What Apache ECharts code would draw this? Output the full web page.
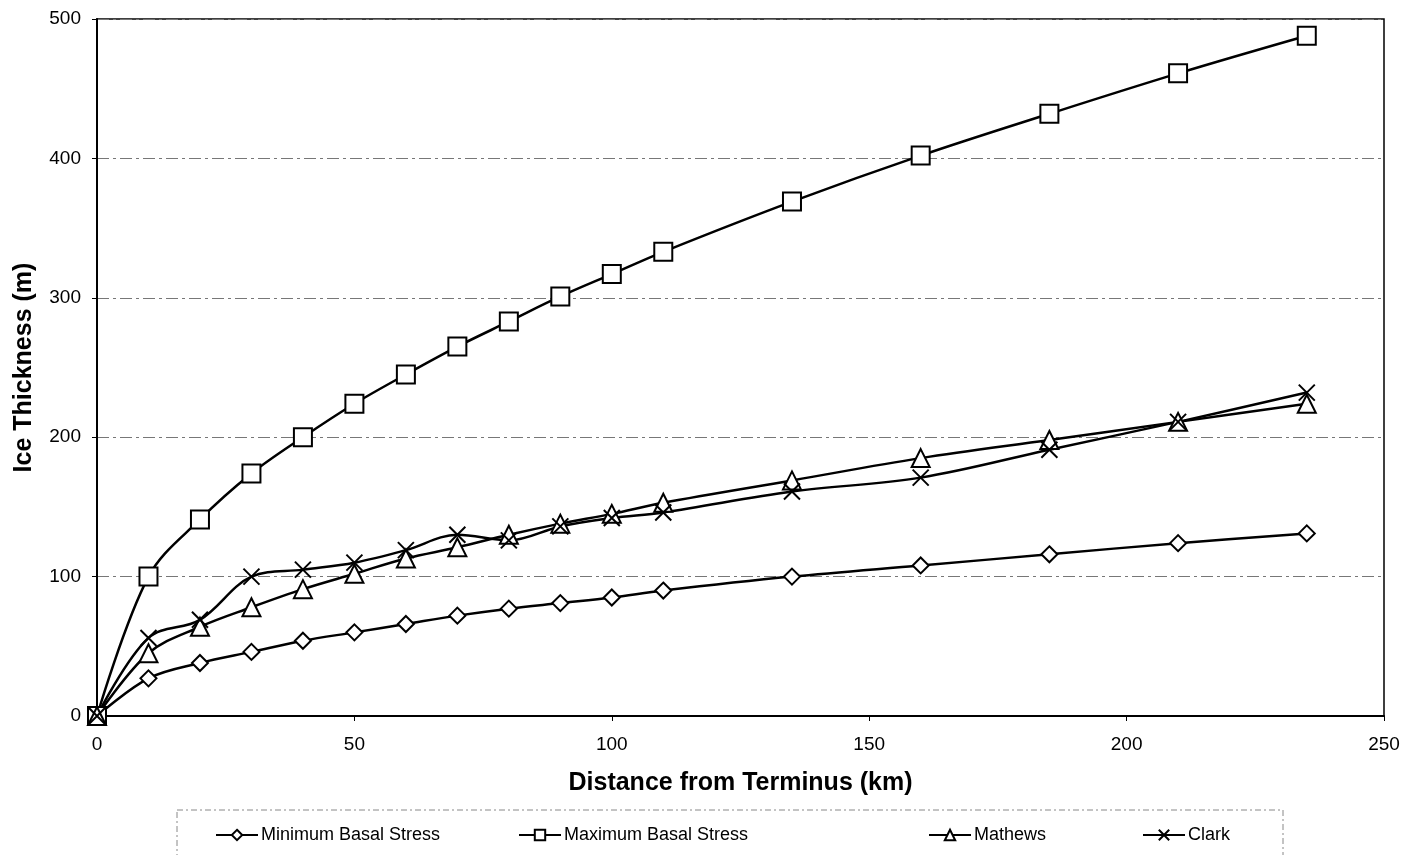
<!DOCTYPE html>
<html>
<head>
<meta charset="utf-8">
<script src="https://cdn.jsdelivr.net/npm/echarts@6/dist/echarts.min.js"></script>
<style>
html,body{margin:0;padding:0;background:#fff}
#main{width:1406px;height:855px}
</style>
</head>
<body>
<div id="main"></div>
<script>
const chartDom=document.getElementById('main')
let myChart=echarts.init(chartDom)

// distance from terminus (km)
const distance=[0,10,20,30,40,50,60,70,80,90,100,110,135,160,185,210,235]
// ice thickness (m)
const minBasal=[0,27,38,46,54,60,66,72,77,81,85,90,100,108,116,124,131]
const maxBasal=[0,100,141,174,200,224,245,265,283,301,317,333,369,402,432,461,488]
const mathews=[0,45,64,78,91,102,113,121,130,138,145,153,169,185,198,211,224]
const clark=[0,56,69,100,105,110,119,130,126,136,142,146,161,171,191,211,232]

const names=['Minimum Basal Stress','Maximum Basal Stress','Mathews','Clark']
const xPath='path://M0,0L10,10M10,0L0,10'

function pairs(arr){
    return distance.map((d,i)=>[d,arr[i]])
}

function mk(name,arr,symbol,size){
    return {
        name:name,
        type:'line',
        data:pairs(arr),
        smooth:0.35,
        symbol:symbol,
        symbolSize:size,
        showSymbol:true,
        lineStyle:{color:'#000',width:2.5},
        itemStyle:{color:'#fff',borderColor:'#000',borderWidth:2},
        emphasis:{disabled:true}
    }
}

const lblFont={fontFamily:'Liberation Sans',fontSize:19,color:'#000'}

function leg(name,left){
    return {
        data:[name],
        left:left,
        top:826,
        padding:0,
        itemWidth:42,
        itemHeight:13,
        itemGap:6,
        textStyle:{fontFamily:'Liberation Sans',fontSize:18,color:'#000',padding:[0,0,0,-2]},
        selectedMode:false
    }
}

let option;
option={
    backgroundColor:'#fff',
    animation:false,
    grid:{left:97,right:22,top:19,bottom:139,show:true,borderColor:'#000',borderWidth:1.5},
    legend:[
        leg(names[0],215),
        leg(names[1],518),
        leg(names[2],928),
        leg(names[3],1142)
    ],
    graphic:[{
        type:'rect',
        shape:{x:177,y:810,width:1106,height:60},
        style:{fill:null,stroke:'#888',lineWidth:1,lineDash:[6,3,2,3]},
        silent:true
    }],
    xAxis:{
        type:'value',
        min:0,max:250,interval:50,
        name:'Distance from Terminus (km)',
        nameLocation:'middle',
        nameGap:55,
        nameTextStyle:{fontFamily:'Liberation Sans',fontWeight:'bold',fontSize:25,color:'#000'},
        axisLine:{lineStyle:{color:'#000',width:2}},
        axisTick:{show:true,inside:false,length:5,lineStyle:{color:'#000'}},
        axisLabel:Object.assign({margin:19},lblFont),
        splitLine:{show:false}
    },
    yAxis:{
        type:'value',
        min:0,max:500,interval:100,
        name:'Ice Thickness (m)',
        nameLocation:'middle',
        nameGap:60,
        nameTextStyle:{fontFamily:'Liberation Sans',fontWeight:'bold',fontSize:25,color:'#000'},
        axisLine:{show:true,lineStyle:{color:'#000',width:2}},
        axisTick:{show:true,inside:false,length:5,lineStyle:{color:'#000'}},
        axisLabel:Object.assign({margin:16},lblFont),
        splitLine:{show:true,lineStyle:{color:'#777',width:1,type:[12,4,3,4]}}
    },
    series:[
        mk(names[0],minBasal,'diamond',16),
        mk(names[1],maxBasal,'rect',18),
        mk(names[2],mathews,'triangle',18),
        mk(names[3],clark,xPath,16)
    ]
}

option && myChart.setOption(option);
</script>
</body>
</html>
